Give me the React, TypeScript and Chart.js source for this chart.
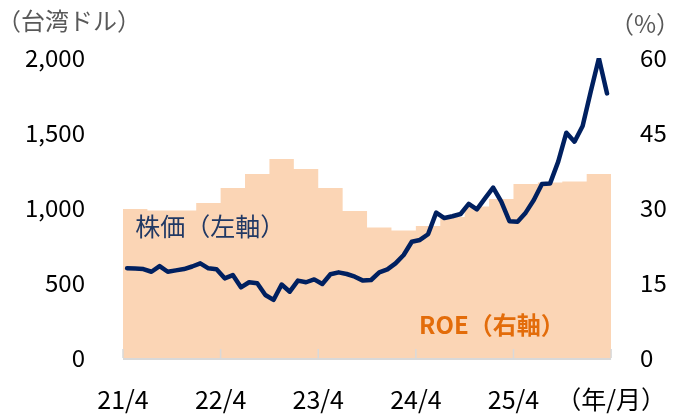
import React, { useEffect, useRef } from "react";
import { Chart, registerables } from "chart.js";

Chart.register(...registerables);

// Stock price (TWD), monthly, Apr 2021 – Mar 2026
const stockPrice: number[] = [
  598, 596, 593, 575, 613, 575, 584, 593, 610, 631, 598, 591,
  531, 553, 471, 505, 498, 420, 387, 490, 442, 516, 505, 524,
  493, 558, 571, 560, 542, 516, 520, 571, 591, 631, 687, 775,
  787, 825, 969, 933, 945, 960, 1027, 991, 1064, 1136, 1042, 912,
  909, 969, 1053, 1160, 1164, 1309, 1502, 1442, 1547, 1776, 1998, 1764,
];

// ROE (%), quarterly, Apr 2021 – Mar 2026
const roe: number[] = [
  29.8, 29.5, 29.5, 31.0, 34.0, 36.8, 39.8, 37.8, 34.0, 29.4,
  26.1, 25.5, 26.4, 28.2, 30.3, 31.8, 34.8, 35.1, 35.3, 36.8,
];

const xTickValues: number[] = [0, 12, 24, 36, 48, 60];
const xTickLabels: string[] = ["21/4", "22/4", "23/4", "24/4", "25/4", "（年/月）"];

const leftTitle = "（台湾ドル）";
const rightTitle = "（%）";
const stockLabel = "株価（左軸）";
const roeLabel = "ROE（右軸）";

const FONT = '"Noto Sans CJK JP", "Noto Sans", sans-serif';

export default function App() {
  const ref = useRef<HTMLCanvasElement | null>(null);

  useEffect(() => {
    if (!ref.current) return;

    const lineData = stockPrice.map((v, i) => ({ x: i + 0.5, y: v }));
    const roeData = roe.map((v, i) => ({ x: i * 3, y: v }));
    roeData.push({ x: roe.length * 3, y: roe[roe.length - 1] });

    const decor = {
      id: "decor",
      afterDatasetsDraw(chart: any) {
        const { ctx, chartArea, scales } = chart;
        const xs = scales.x;
        const ys = scales.y;
        const y1 = scales.y1;
        ctx.save();
        // axis line
        ctx.strokeStyle = "#D9D9D9";
        ctx.lineWidth = 2;
        ctx.beginPath();
        ctx.moveTo(chartArea.left, chartArea.bottom + 1);
        ctx.lineTo(chartArea.right, chartArea.bottom + 1);
        ctx.stroke();
        // inside tick marks
        ctx.lineWidth = 1.5;
        xTickValues.forEach((v) => {
          const px = xs.getPixelForValue(v);
          ctx.beginPath();
          ctx.moveTo(px, chartArea.bottom);
          ctx.lineTo(px, chartArea.bottom - 9);
          ctx.stroke();
        });
        // series labels
        ctx.textBaseline = "middle";
        ctx.textAlign = "left";
        ctx.fillStyle = "#203864";
        ctx.font = `25px ${FONT}`;
        ctx.fillText(stockLabel, xs.getPixelForValue(1.5), ys.getPixelForValue(880));
        ctx.fillStyle = "#E36C0A";
        ctx.font = `bold 24px ${FONT}`;
        ctx.fillText(roeLabel, xs.getPixelForValue(36.4), y1.getPixelForValue(6.6));
        // axis titles
        ctx.fillStyle = "#595959";
        ctx.font = `24px ${FONT}`;
        ctx.textAlign = "left";
        ctx.fillText(leftTitle, -3, 21);
        ctx.textAlign = "center";
        ctx.fillText(rightTitle, 645, 24);
        ctx.restore();
      },
    };

    const chart = new Chart(ref.current, {
      type: "line",
      data: {
        datasets: [
          {
            label: "株価",
            data: lineData,
            yAxisID: "y",
            borderColor: "#002060",
            borderWidth: 4.5,
            pointRadius: 0,
            tension: 0,
            borderJoinStyle: "round",
            borderCapStyle: "round",
            fill: false,
            order: 1,
          },
          {
            label: "ROE",
            data: roeData,
            yAxisID: "y1",
            stepped: "before",
            borderWidth: 0,
            borderColor: "rgba(0,0,0,0)",
            backgroundColor: "#FBD5B5",
            pointRadius: 0,
            fill: "origin",
            order: 2,
          },
        ],
      },
      options: {
        responsive: false,
        animation: false,
        layout: { padding: { top: 58, left: 0, right: 0, bottom: 0 } },
        plugins: {
          legend: { display: false },
          tooltip: { enabled: false },
        },
        scales: {
          x: {
            type: "linear",
            position: "bottom",
            min: 0,
            max: 60,
            grid: { display: false, drawTicks: false },
            border: { display: false },
            afterBuildTicks: (scale: any) => {
              scale.ticks = xTickValues.map((v) => ({ value: v }));
            },
            afterFit: (scale: any) => {
              scale.height = 56;
            },
            ticks: {
              autoSkip: false,
              maxRotation: 0,
              padding: 26,
              color: "#000000",
              font: { family: FONT, size: 25 },
              callback: (v: any) => {
                const idx = xTickValues.indexOf(Number(v));
                return idx >= 0 ? xTickLabels[idx] : "";
              },
            },
          },
          y: {
            position: "left",
            min: 0,
            max: 2000,
            grid: { display: false, drawTicks: false },
            border: { display: false },
            afterFit: (scale: any) => {
              scale.width = 123;
            },
            ticks: {
              stepSize: 500,
              padding: 38,
              color: "#000000",
              font: { family: FONT, size: 24 },
              callback: (v: any) => Number(v).toLocaleString("en-US"),
            },
          },
          y1: {
            position: "right",
            min: 0,
            max: 60,
            grid: { display: false, drawTicks: false },
            border: { display: false },
            afterFit: (scale: any) => {
              scale.width = 74;
            },
            ticks: {
              stepSize: 15,
              padding: 29,
              color: "#000000",
              font: { family: FONT, size: 24 },
            },
          },
        },
      },
      plugins: [decor],
    });

    return () => chart.destroy();
  }, []);

  return (
    <div style={{ position: "fixed", left: 0, top: 0, width: 692, height: 414, background: "#ffffff" }}>
      <canvas ref={ref} width={692} height={414} style={{ display: "block" }} />
    </div>
  );
}
